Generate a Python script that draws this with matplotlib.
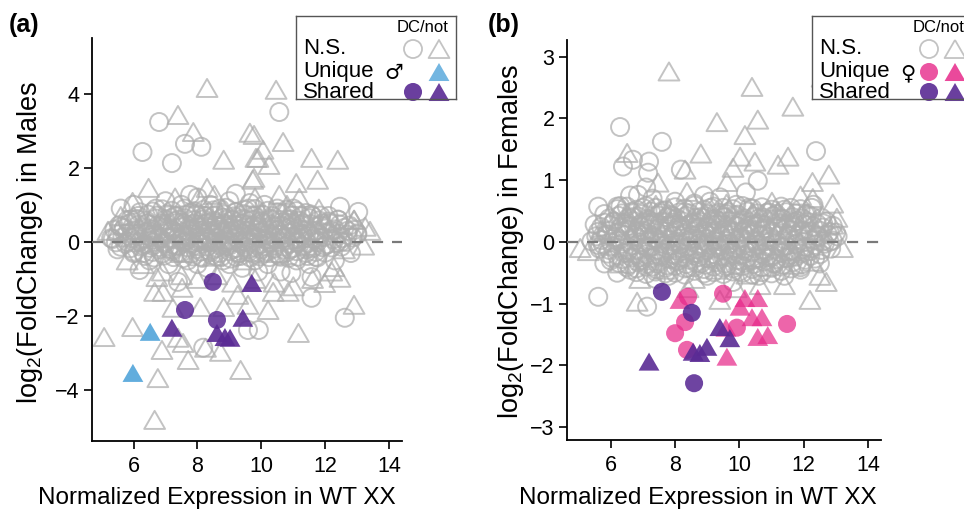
import matplotlib
matplotlib.use("Agg")
import matplotlib.pyplot as plt
from matplotlib.path import Path

plt.rcParams['font.family'] = ['Liberation Sans', 'DejaVu Sans']
plt.rcParams['mathtext.fontset'] = 'custom'
plt.rcParams['mathtext.rm'] = 'Liberation Sans'
plt.rcParams['mathtext.it'] = 'Liberation Sans:italic'

# ---------------- DATA ----------------
# Panel (a): males -- non-significant genes (open symbols)
a_ns_circ_x = [6.80, 7.61, 8.12, 6.28, 7.20, 9.64, 7.77, 10.56, 12.46, 13.03, 6.19, 7.39, 8.18, 9.58, 9.92, 10.94, 11.57, 11.57, 12.61,
               5.3, 5.5, 5.6, 5.8, 5.9, 6.0, 6.1, 6.2, 6.3, 6.4, 6.5, 6.6, 6.7, 6.8, 6.9, 7.0, 7.0, 7.1, 7.2, 7.3, 7.4, 7.5, 7.5, 7.6, 7.7,
               7.8, 7.8, 7.9, 8.0, 8.0, 8.1, 8.2, 8.2, 8.3, 8.4, 8.4, 8.5, 8.6, 8.6, 8.7, 8.8, 8.8, 8.9, 9.0, 9.0, 9.1, 9.2, 9.2, 9.3,
               9.4, 9.4, 9.5, 9.6, 9.6, 9.7, 9.8, 9.8, 9.9, 10.0, 10.0, 10.1, 10.2, 10.2, 10.3, 10.4, 10.5, 10.5, 10.6, 10.7, 10.8, 10.9,
               11.0, 11.0, 11.1, 11.2, 11.3, 11.4, 11.5, 11.6, 11.7, 11.8, 11.9, 12.0, 12.2, 12.3, 12.4, 12.5, 12.7, 12.8, 13.0,
               7.1, 7.3, 7.4, 7.6, 7.7, 7.9, 8.0, 8.1, 8.3, 8.3, 8.5, 8.5, 8.7, 8.7, 8.9, 8.9, 9.1, 9.1, 9.3, 9.3, 9.5, 9.5, 9.7, 9.7,
               9.9, 9.9, 10.1, 10.1, 10.3, 10.4, 10.6, 10.7, 10.9, 11.1, 11.3, 6.8, 6.6, 6.4, 6.2, 7.2, 8.0, 8.6, 9.0, 9.9, 10.6, 11.5,
               12.1, 5.6, 6.0, 9.2]
a_ns_circ_y = [3.24, 2.65, 2.57, 2.43, 2.13, 1.05, 1.27, 3.51, 0.95, 0.81, -0.76, -1.08, -2.86, -2.38, -2.38, -0.84, -0.95, -1.51, -2.05,
               0.1, -0.2, 0.4, 0.0, 0.6, -0.3, 0.3, 0.8, -0.1, 0.5, -0.5, 0.2, 0.9, -0.2, 0.5, 0.0, 1.1, -0.6, 0.3, 0.7, -0.3, 0.1, 1.0, 0.5, -0.5,
               0.2, 0.8, -0.1, 0.4, 1.2, -0.4, 0.1, 0.7, -0.7, 0.3, 1.0, -0.2, 0.5, 0.0, 0.9, -0.5, 0.2, 0.6, -0.1, 1.1, 0.3, -0.4, 0.8, 0.0,
               0.5, -0.7, 0.2, 0.9, -0.2, 0.4, -0.5, 0.7, 0.1, -0.2, 0.5, 1.0, 0.2, -0.6, 0.6, -0.1, 0.3, 0.9, -0.4, 0.1, 0.6, -0.2,
               0.3, 0.9, -0.5, 0.1, 0.5, -0.2, 0.2, 0.7, -0.4, 0.1, 0.5, -0.1, 0.3, -0.5, 0.6, 0.0, 0.3, -0.3, 0.2,
               0.4, -0.1, 0.6, 0.0, 0.3, 0.5, 0.0, 0.3, 0.5, 0.0, 0.2, 0.7, -0.1, 0.4, 0.0, 0.3, -0.2, 0.6, 0.3, -0.3, 0.0, 0.6, 0.1, -0.3,
               0.4, -0.1, 0.2, -0.3, 0.0, 0.4, 0.2, -0.2, 0.4, 0.0, 0.2, 0.1, -0.1, 0.2, 0.0, -0.2, -0.6, -0.4, -0.6, -0.8, -0.8, -0.6,
               0.7, 0.9, 1.0, 1.3]
# dense core of panel (a), typed row by row
a_core_x = [6.6, 6.9, 7.2, 7.6, 7.9, 8.2, 8.5, 8.9, 9.2, 9.5, 9.8, 10.2, 10.5, 10.8, 11.1, 11.4,
            5.8, 6.1, 6.4, 6.7, 7.0, 7.3, 7.6, 7.9, 8.2, 8.5, 8.8, 9.1, 9.4, 9.7, 10.0, 10.3, 10.6, 10.9, 11.2, 11.5, 11.8, 12.1, 12.4,
            5.4, 5.7, 6.0, 6.3, 6.6, 6.9, 7.2, 7.5, 7.8, 8.1, 8.4, 8.7, 9.0, 9.3, 9.6, 9.9, 10.2, 10.5, 10.8, 11.1, 11.4, 11.7, 12.0, 12.3, 12.6, 12.9,
            5.35, 5.65, 5.95, 6.25, 6.55, 6.85, 7.15, 7.45, 7.75, 8.05, 8.35, 8.65, 8.95, 9.25, 9.55, 9.85, 10.15, 10.45, 10.75, 11.05,
            11.35, 11.65, 11.95, 12.25, 12.55, 12.85,
            5.6, 5.9, 6.2, 6.5, 6.8, 7.1, 7.4, 7.7, 8.0, 8.3, 8.6, 8.9, 9.2, 9.5, 9.8, 10.1, 10.4, 10.7, 11.0, 11.3, 11.6, 11.9, 12.2, 12.5,
            6.35, 6.65, 6.95, 7.25, 7.55, 7.85, 8.15, 8.45, 8.75, 9.05, 9.35, 9.65, 9.95, 10.25, 10.55, 10.85, 11.15, 11.45, 11.75]
a_core_y = [0.82, 0.88, 0.84, 0.90, 0.83, 0.87, 0.85, 0.92, 0.81, 0.86, 0.89, 0.84, 0.80, 0.87, 0.83, 0.78,
            0.58, 0.62, 0.57, 0.63, 0.60, 0.56, 0.64, 0.59, 0.61, 0.57, 0.65, 0.58, 0.62, 0.60, 0.56, 0.63, 0.59, 0.61, 0.57, 0.64, 0.58, 0.55, 0.60,
            0.33, 0.37, 0.31, 0.38, 0.34, 0.36, 0.32, 0.39, 0.35, 0.30, 0.37, 0.33, 0.38, 0.34, 0.31, 0.36, 0.39, 0.32, 0.35, 0.37, 0.33, 0.30, 0.36, 0.34, 0.38, 0.32,
            0.08, 0.12, 0.10, 0.06, 0.13, 0.09, 0.11, 0.07, 0.14, 0.10, 0.08, 0.12, 0.06, 0.11, 0.09, 0.13, 0.07, 0.10, 0.12, 0.08,
            0.11, 0.09, 0.13, 0.07, 0.10, 0.12,
            -0.13, -0.17, -0.12, -0.16, -0.14, -0.18, -0.11, -0.15, -0.19, -0.13, -0.16, -0.12, -0.17, -0.14, -0.15, -0.11, -0.18, -0.13, -0.16, -0.12, -0.17, -0.14, -0.15, -0.13,
            -0.38, -0.42, -0.37, -0.41, -0.44, -0.39, -0.43, -0.36, -0.40, -0.45, -0.38, -0.42, -0.39, -0.41, -0.37, -0.43, -0.40, -0.38, -0.42]
a_core2_x = [6.15, 6.45, 6.75, 7.05, 7.35, 7.65, 7.95, 8.25, 8.55, 8.85, 9.15, 9.45, 9.75, 10.05, 10.35, 10.65, 10.95, 11.25, 11.55, 11.85,
             5.55, 5.85, 6.15, 6.45, 6.75, 7.05, 7.35, 7.65, 7.95, 8.25, 8.55, 8.85, 9.15, 9.45, 9.75, 10.05, 10.35, 10.65, 10.95, 11.25,
             11.55, 11.85, 12.15, 12.45, 12.75,
             5.5, 5.8, 6.1, 6.4, 6.7, 7.0, 7.3, 7.6, 7.9, 8.2, 8.5, 8.8, 9.1, 9.4, 9.7, 10.0, 10.3, 10.6, 10.9, 11.2, 11.5, 11.8, 12.1,
             12.4, 12.7, 13.0,
             5.45, 5.75, 6.05, 6.35, 6.65, 6.95, 7.25, 7.55, 7.85, 8.15, 8.45, 8.75, 9.05, 9.35, 9.65, 9.95, 10.25, 10.55, 10.85, 11.15,
             11.45, 11.75, 12.05, 12.35, 12.65,
             6.0, 6.3, 6.6, 6.9, 7.2, 7.5, 7.8, 8.1, 8.4, 8.7, 9.0, 9.3, 9.6, 9.9, 10.2, 10.5, 10.8, 11.1, 11.4, 11.7, 12.0]
a_core2_y = [0.70, 0.74, 0.71, 0.75, 0.69, 0.73, 0.76, 0.70, 0.72, 0.74, 0.69, 0.75, 0.71, 0.73, 0.70, 0.76, 0.72, 0.69, 0.74, 0.71,
             0.45, 0.49, 0.46, 0.50, 0.44, 0.48, 0.51, 0.45, 0.47, 0.49, 0.44, 0.50, 0.46, 0.48, 0.45, 0.51, 0.47, 0.44, 0.49, 0.46,
             0.48, 0.45, 0.50, 0.47, 0.44,
             0.20, 0.24, 0.21, 0.25, 0.19, 0.23, 0.26, 0.20, 0.22, 0.24, 0.19, 0.25, 0.21, 0.23, 0.20, 0.26, 0.22, 0.19, 0.24, 0.21, 0.23, 0.20, 0.25,
             0.22, 0.19, 0.23,
             -0.01, -0.05, -0.02, -0.06, 0.00, -0.04, -0.07, -0.01, -0.03, -0.05, 0.00, -0.06, -0.02, -0.04, -0.01, -0.07, -0.03, 0.00, -0.05, -0.02,
             -0.04, -0.01, -0.06, -0.03, 0.00,
             -0.26, -0.30, -0.27, -0.31, -0.25, -0.29, -0.32, -0.26, -0.28, -0.30, -0.25, -0.31, -0.27, -0.29, -0.26, -0.32, -0.28, -0.25, -0.30, -0.27, -0.29]
a_ns_tri_x = [8.30, 7.39, 7.87, 8.82, 9.64, 9.83, 9.73, 6.47, 5.97, 8.30, 8.53, 8.03, 10.46, 10.68, 10.05, 9.77, 9.89, 10.24, 11.57, 12.39,
              11.76, 11.09, 9.77, 10.56, 11.19, 13.25, 5.2, 5.6, 13.4, 12.9,
              6.73, 6.66, 6.92, 7.52, 5.08, 5.97, 7.23, 7.39, 7.55, 6.89, 7.71, 6.76, 6.66, 8.25, 8.72, 9.35, 10.21, 9.58, 9.26, 8.09,
              8.82, 10.37, 10.84, 11.98, 12.46, 12.27, 12.90, 11.16,
              6.3, 6.9, 7.5, 8.0, 8.6, 9.1, 9.8, 10.4, 11.0, 11.6, 12.2, 5.8,
              6.5, 7.0, 7.5, 8.0, 8.5, 9.0, 9.5, 10.0, 10.5, 11.0, 11.5, 12.0, 12.6, 5.5, 13.2, 8.8, 9.8, 10.8, 7.3, 6.0, 11.8, 12.9]
a_ns_tri_y = [4.16, 3.43, 2.97, 2.22, 2.95, 2.27, 1.68, 1.46, 1.08, 1.46, 1.27, 1.19, 4.11, 2.70, 2.49, 2.89, 2.27, 2.08, 2.27, 2.22,
              1.68, 1.59, 1.73, 1.27, 1.19, 0.41, 0.3, 0.7, 0.3, 0.6,
              -0.95, -1.35, -1.35, -1.24, -2.57, -2.30, -1.78, -2.59, -2.73, -2.92, -3.19, -3.68, -4.81, -2.86, -2.97, -3.46, -1.84, -1.70, -1.43, -1.76,
              -1.76, -1.35, -1.35, -1.11, -0.97, -0.68, -1.70, -2.46,
              -0.6, -0.8, -0.9, -1.0, -0.9, -1.1, -1.0, -1.1, -1.2, -1.0, -0.8, -0.5,
              0.3, 0.6, -0.3, 0.6, -0.4, 0.4, -0.5, 0.8, -0.3, 0.6, -0.1, 0.5, -0.2, 0.3, -0.1, 0.9, 1.2, 1.0, 1.2, 0.7, 0.9, 0.6]
a_shared_circ_x = [8.48, 7.61, 8.61]
a_shared_circ_y = [-1.08, -1.84, -2.11]
a_shared_tri_x = [9.70, 9.42, 7.20, 8.61, 8.86, 9.02]
a_shared_tri_y = [-1.11, -2.05, -2.32, -2.46, -2.57, -2.59]
a_unique_tri_x = [6.52, 5.98]
a_unique_tri_y = [-2.43, -3.54]

# Panel (b): females
b_ns_circ_x = [6.29, 7.59, 6.38, 6.69, 7.19, 7.16, 8.18, 5.61, 6.20, 6.85, 9.08, 12.38, 10.57, 12.25, 5.61, 7.13,
               5.5, 5.6, 5.8, 5.9, 6.0, 6.1, 6.2, 6.3, 6.4, 6.5, 6.6, 6.7, 6.8, 6.9, 7.0, 7.0, 7.1, 7.2, 7.3, 7.3, 7.4, 7.5, 7.5, 7.6,
               7.7, 7.8, 7.8, 7.9, 8.0, 8.0, 8.1, 8.2, 8.2, 8.3, 8.4, 8.4, 8.5, 8.6, 8.6, 8.7, 8.8, 8.8, 8.9, 9.0, 9.0, 9.1, 9.2, 9.2,
               9.3, 9.4, 9.4, 9.5, 9.6, 9.6, 9.7, 9.8, 9.8, 9.9, 10.0, 10.0, 10.1, 10.2, 10.3, 10.3, 10.4, 10.5, 10.6, 10.6, 10.7, 10.8,
               10.9, 11.0, 11.1, 11.2, 11.3, 11.4, 11.5, 11.6, 11.7, 11.8, 11.9, 12.0, 12.1, 12.2, 12.4, 12.5, 12.6, 12.8, 13.0,
               6.2, 6.9, 7.2, 7.6, 7.9, 8.3, 8.5, 8.7, 9.1, 9.3, 9.5, 9.7, 9.9, 10.1, 10.4, 10.8, 11.0, 11.3, 7.4, 8.9, 10.2, 9.8, 11.4,
               12.3, 5.8, 6.6, 7.1]
b_ns_circ_y = [1.86, 1.62, 1.22, 1.33, 1.30, 1.12, 1.17, 0.57, 0.57, 0.76, 0.65, 1.47, 0.99, 0.55, -0.89, -1.05,
               0.28, -0.05, 0.45, 0.12, -0.30, 0.33, 0.02, 0.58, -0.18, 0.25, -0.45, 0.40, 0.08, -0.25, 0.55, 0.18, -0.08, 0.35, -0.40, 0.70,
               0.05, 0.28, -0.22, 0.50, -0.05, 0.20, -0.55, 0.42, 0.00, 0.65, -0.30, 0.25, -0.10, 0.48, 0.08, -0.42, 0.30, -0.18, 0.62, 0.12,
               -0.35, 0.40, -0.05, 0.22, -0.55, 0.55, 0.02, -0.25, 0.35, -0.12, 0.72, 0.15, -0.40, 0.45, -0.02, 0.28, -0.22, 0.60, 0.05,
               -0.48, 0.35, -0.15, 0.18, 0.55, -0.30, 0.00, 0.38, -0.55, 0.12, -0.18, 0.48, 0.02, -0.35, 0.25, -0.08, 0.52, 0.10, -0.25,
               0.32, -0.02, -0.45, 0.18, 0.45, -0.15, 0.10, -0.35, 0.30, 0.00, 0.15,
               -0.50, 0.28, 0.12, 0.08, -0.20, -0.25, 0.05, 0.30, 0.10, -0.05, 0.40, 0.20, -0.10, 0.15, 0.28, 0.22, -0.25, 0.38, -0.60,
               0.75, 0.80, -0.65, -0.55, 0.60, -0.35, 0.75, 0.88]
# dense core of panel (b), typed row by row
b_core_x = [6.2, 6.5, 6.8, 7.1, 7.4, 7.7, 8.0, 8.3, 8.6, 8.9, 9.2, 9.5, 9.8, 10.1, 10.4, 10.7, 11.0, 11.3, 11.6, 11.9,
            5.95, 6.25, 6.55, 6.85, 7.15, 7.45, 7.75, 8.05, 8.35, 8.65, 8.95, 9.25, 9.55, 9.85, 10.15, 10.45, 10.75, 11.05, 11.35,
            11.65, 11.95, 12.25, 12.55,
            5.7, 6.0, 6.3, 6.6, 6.9, 7.2, 7.5, 7.8, 8.1, 8.4, 8.7, 9.0, 9.3, 9.6, 9.9, 10.2, 10.5, 10.8, 11.1, 11.4, 11.7, 12.0, 12.3, 12.6, 12.9,
            5.55, 5.85, 6.15, 6.45, 6.75, 7.05, 7.35, 7.65, 7.95, 8.25, 8.55, 8.85, 9.15, 9.45, 9.75, 10.05, 10.35, 10.65, 10.95, 11.25,
            11.55, 11.85, 12.15, 12.45, 12.75, 13.05,
            5.75, 6.05, 6.35, 6.65, 6.95, 7.25, 7.55, 7.85, 8.15, 8.45, 8.75, 9.05, 9.35, 9.65, 9.95, 10.25, 10.55, 10.85, 11.15, 11.45,
            11.75, 12.05, 12.35, 12.65,
            5.9, 6.2, 6.5, 6.8, 7.1, 7.4, 7.7, 8.0, 8.3, 8.6, 8.9, 9.2, 9.5, 9.8, 10.1, 10.4, 10.7, 11.0, 11.3, 11.6, 11.9, 12.2, 12.5,
            6.25, 6.55, 6.85, 7.15, 7.45, 7.75, 8.05, 8.35, 8.65, 8.95, 9.25, 9.55, 9.85, 10.15, 10.45, 10.75, 11.05, 11.35, 11.65, 11.95,
            6.8, 7.1, 7.4, 7.7, 8.0, 8.3, 8.6, 8.9, 9.2, 9.5, 9.8, 10.1, 10.4, 10.7, 11.0, 11.3]
b_core_y = [0.53, 0.57, 0.52, 0.58, 0.55, 0.51, 0.56, 0.54, 0.59, 0.52, 0.57, 0.55, 0.53, 0.58, 0.54, 0.56, 0.52, 0.57, 0.55, 0.53,
            0.38, 0.42, 0.39, 0.41, 0.37, 0.43, 0.40, 0.38, 0.42, 0.39, 0.41, 0.37, 0.40, 0.43, 0.38, 0.41, 0.39, 0.42, 0.37,
            0.40, 0.38, 0.41, 0.39,
            0.24, 0.27, 0.23, 0.26, 0.25, 0.28, 0.22, 0.26, 0.24, 0.27, 0.23, 0.25, 0.28, 0.24, 0.26, 0.22, 0.25, 0.27, 0.23, 0.26, 0.24, 0.28, 0.25, 0.23, 0.26,
            0.09, 0.12, 0.08, 0.11, 0.10, 0.13, 0.07, 0.11, 0.09, 0.12, 0.10, 0.08, 0.13, 0.09, 0.11, 0.07, 0.12, 0.10, 0.08, 0.11,
            0.09, 0.13, 0.10, 0.08, 0.12, 0.09,
            -0.04, -0.07, -0.03, -0.06, -0.05, -0.08, -0.02, -0.06, -0.04, -0.07, -0.03, -0.05, -0.08, -0.04, -0.06, -0.02, -0.05, -0.07, -0.03, -0.06,
            -0.04, -0.08, -0.05, -0.03,
            -0.19, -0.22, -0.18, -0.21, -0.20, -0.23, -0.17, -0.21, -0.19, -0.22, -0.18, -0.20, -0.23, -0.19, -0.21, -0.17, -0.20, -0.22, -0.18, -0.21, -0.19, -0.23, -0.20,
            -0.34, -0.37, -0.33, -0.36, -0.35, -0.38, -0.32, -0.36, -0.34, -0.37, -0.33, -0.35, -0.38, -0.34, -0.36, -0.32, -0.35, -0.37, -0.33, -0.36,
            -0.49, -0.52, -0.48, -0.51, -0.50, -0.53, -0.47, -0.51, -0.49, -0.52, -0.48, -0.50, -0.53, -0.49, -0.51, -0.47]
b_core2_x = [6.35, 6.65, 6.95, 7.25, 7.55, 7.85, 8.15, 8.45, 8.75, 9.05, 9.35, 9.65, 9.95, 10.25, 10.55, 10.85, 11.15, 11.45, 11.75, 12.05,
             5.8, 6.1, 6.4, 6.7, 7.0, 7.3, 7.6, 7.9, 8.2, 8.5, 8.8, 9.1, 9.4, 9.7, 10.0, 10.3, 10.6, 10.9, 11.2, 11.5, 11.8, 12.1, 12.4, 12.7,
             5.6, 5.9, 6.2, 6.5, 6.8, 7.1, 7.4, 7.7, 8.0, 8.3, 8.6, 8.9, 9.2, 9.5, 9.8, 10.1, 10.4, 10.7, 11.0, 11.3, 11.6, 11.9, 12.2, 12.5, 12.8,
             5.4, 5.7, 6.0, 6.3, 6.6, 6.9, 7.2, 7.5, 7.8, 8.1, 8.4, 8.7, 9.0, 9.3, 9.6, 9.9, 10.2, 10.5, 10.8, 11.1, 11.4, 11.7, 12.0,
             12.3, 12.6, 12.9,
             5.65, 5.95, 6.25, 6.55, 6.85, 7.15, 7.45, 7.75, 8.05, 8.35, 8.65, 8.95, 9.25, 9.55, 9.85, 10.15, 10.45, 10.75, 11.05, 11.35,
             11.65, 11.95, 12.25, 12.55, 12.85,
             6.05, 6.35, 6.65, 6.95, 7.25, 7.55, 7.85, 8.15, 8.45, 8.75, 9.05, 9.35, 9.65, 9.95, 10.25, 10.55, 10.85, 11.15, 11.45, 11.75,
             12.05, 12.35,
             6.5, 6.8, 7.1, 7.4, 7.7, 8.0, 8.3, 8.6, 8.9, 9.2, 9.5, 9.8, 10.1, 10.4, 10.7, 11.0, 11.3, 11.6, 11.9]
b_core2_y = [0.46, 0.48, 0.45, 0.49, 0.47, 0.44, 0.48, 0.46, 0.49, 0.45, 0.47, 0.48, 0.44, 0.49, 0.46, 0.47, 0.45, 0.48, 0.46, 0.44,
             0.31, 0.33, 0.30, 0.34, 0.32, 0.29, 0.33, 0.31, 0.34, 0.30, 0.32, 0.33, 0.29, 0.34, 0.31, 0.32, 0.30, 0.33, 0.31, 0.29, 0.34, 0.32, 0.30, 0.33,
             0.16, 0.18, 0.15, 0.19, 0.17, 0.14, 0.18, 0.16, 0.19, 0.15, 0.17, 0.18, 0.14, 0.19, 0.16, 0.17, 0.15, 0.18, 0.16, 0.14, 0.19, 0.17, 0.15, 0.18, 0.16,
             0.01, 0.03, 0.00, 0.04, 0.02, -0.01, 0.03, 0.01, 0.04, 0.00, 0.02, 0.03, -0.01, 0.04, 0.01, 0.02, 0.00, 0.03, 0.01, -0.01, 0.04, 0.02, 0.00,
             0.03, 0.01, 0.02,
             -0.11, -0.13, -0.10, -0.14, -0.12, -0.09, -0.13, -0.11, -0.14, -0.10, -0.12, -0.13, -0.09, -0.14, -0.11, -0.12, -0.10, -0.13, -0.11, -0.09,
             -0.14, -0.12, -0.10, -0.13, -0.11,
             -0.26, -0.28, -0.25, -0.29, -0.27, -0.24, -0.28, -0.26, -0.29, -0.25, -0.27, -0.28, -0.24, -0.29, -0.26, -0.27, -0.25, -0.28, -0.26, -0.24,
             -0.29, -0.27,
             -0.41, -0.43, -0.40, -0.44, -0.42, -0.39, -0.43, -0.41, -0.44, -0.40, -0.42, -0.43, -0.39, -0.44, -0.41, -0.42, -0.40, -0.43, -0.41]
b_ns_tri_x = [7.81, 9.30, 8.80, 6.51, 7.47, 8.31, 8.37, 9.61, 9.80, 10.39, 11.66, 10.57, 10.17, 11.51, 11.20, 10.48, 10.02, 12.78,
              11.01, 12.28, 13.03, 11.66, 12.57, 12.27,
              6.82, 5.05, 12.19, 10.64, 10.23, 11.66, 12.28, 9.39,
              5.3, 5.7, 6.3, 6.5, 7.0, 7.4, 7.7, 8.1, 8.6, 8.9, 9.3, 9.6, 10.0, 10.4, 10.8, 11.2, 11.6, 12.0, 12.5, 12.9, 13.2,
              6.9, 8.4, 9.9, 11.4, 12.7, 11.9, 12.9, 7.8, 9.1]
b_ns_tri_y = [2.76, 1.94, 1.43, 1.44, 0.96, 1.17, 0.81, 0.97, 1.20, 2.51, 2.19, 1.98, 1.73, 1.38, 1.25, 1.30, 1.38, 1.09,
              0.65, 0.71, 0.39, 0.39, 2.66, 0.97,
              -0.97, -0.10, -0.94, -0.70, -0.53, -0.37, -0.32, -0.94,
              -0.15, 0.20, -0.35, 0.45, -0.30, 0.60, -0.45, 0.38, -0.60, 0.15, -0.45, 0.62, -0.30, 0.48, -0.40, 0.50, -0.15, 0.40, -0.55,
              0.28, -0.10, -0.60, -0.75, -0.75, -0.70, -0.65, 0.75, 0.62, 0.55, 0.45]
b_unique_circ_x = [8.40, 8.31, 8.00, 8.37, 9.49, 9.92, 11.48]
b_unique_circ_y = [-0.89, -1.30, -1.48, -1.75, -0.84, -1.39, -1.33]
b_unique_tri_x = [8.15, 10.17, 10.57, 10.02, 10.39, 10.70, 10.57, 10.88, 9.61, 9.58]
b_unique_tri_y = [-0.94, -0.91, -0.91, -1.05, -1.22, -1.22, -1.54, -1.51, -1.86, -1.39]
b_shared_circ_x = [7.59, 8.52, 8.59]
b_shared_circ_y = [-0.81, -1.15, -2.29]
b_shared_tri_x = [9.39, 9.70, 8.99, 8.56, 8.77, 7.19]
b_shared_tri_y = [-1.38, -1.56, -1.70, -1.78, -1.80, -1.94]

x_ticks = [6, 8, 10, 12, 14]
a_y_ticks = [-4, -2, 0, 2, 4]
b_y_ticks = [-3, -2, -1, 0, 1, 2, 3]

# ---------------- STYLE ----------------
GRAY = (0.68, 0.68, 0.68)
PURPLE = '#5a2a94'
BLUE = '#5aa9dc'
PINK = '#e7298a'
TRI = Path([(0, 0.433), (-0.5, -0.433), (0.5, -0.433), (0, 0.433)],
           [Path.MOVETO, Path.LINETO, Path.LINETO, Path.CLOSEPOLY])
S_C = 13 ** 2
S_T = 15 ** 2

W, H = 964, 516
fig = plt.figure(figsize=(W / 100, H / 100), dpi=100)


def fx(px):
    return px / W


def fy(py):
    return 1 - py / H


def make_axes(l, r, t, b):
    return fig.add_axes([fx(l), fy(b), fx(r) - fx(l), fy(t) - fy(b)])


def style_axes(ax, xlim, ylim, yticks):
    ax.set_xlim(*xlim)
    ax.set_ylim(*ylim)
    ax.set_xticks(x_ticks)
    ax.set_yticks(yticks)
    ax.set_yticklabels([str(v).replace('-', '\u2212') for v in yticks])
    for s in ['top', 'right']:
        ax.spines[s].set_visible(False)
    for s in ['left', 'bottom']:
        ax.spines[s].set_linewidth(1.3)
    ax.tick_params(direction='out', length=6, width=1.2, labelsize=15.5, pad=3)
    ax.tick_params(axis='x', pad=5)


def ns(ax, cx, cy, tx, ty):
    ax.scatter(cx, cy, s=S_C, marker='o', facecolors='none', edgecolors=GRAY,
               linewidths=1.4, alpha=0.72, zorder=2)
    ax.scatter(tx, ty, s=S_T, marker=TRI, facecolors='none', edgecolors=GRAY,
               linewidths=1.4, alpha=0.72, zorder=2)
    ax.axhline(0, color='#7a7a7a', lw=1.6, ls=(0, (5, 4)), zorder=3)


def filled(ax, x, y, marker, color, alpha):
    ax.scatter(x, y, s=S_C if marker == 'o' else S_T, marker=marker, color=color,
               edgecolors='none', alpha=alpha, zorder=4)


# Panel (a)
axa = make_axes(92, 402, 38, 441)
ns(axa, a_ns_circ_x + a_core_x + a_core2_x, a_ns_circ_y + a_core_y + a_core2_y, a_ns_tri_x, a_ns_tri_y)
filled(axa, a_unique_tri_x, a_unique_tri_y, TRI, BLUE, 0.95)
filled(axa, a_shared_circ_x, a_shared_circ_y, 'o', PURPLE, 0.85)
filled(axa, a_shared_tri_x, a_shared_tri_y, TRI, PURPLE, 0.9)
style_axes(axa, (4.70, 14.4), (-5.38, 5.51), a_y_ticks)

# Panel (b)
axb = make_axes(567, 881, 40, 440)
ns(axb, b_ns_circ_x + b_core_x + b_core2_x, b_ns_circ_y + b_core_y + b_core2_y, b_ns_tri_x, b_ns_tri_y)
filled(axb, b_unique_circ_x, b_unique_circ_y, 'o', PINK, 0.72)
filled(axb, b_unique_tri_x, b_unique_tri_y, TRI, PINK, 0.72)
filled(axb, b_shared_circ_x, b_shared_circ_y, 'o', PURPLE, 0.88)
filled(axb, b_shared_tri_x, b_shared_tri_y, TRI, PURPLE, 0.9)
style_axes(axb, (4.64, 14.4), (-3.21, 3.27), b_y_ticks)

# Labels
fig.text(fx(217), fy(498), 'Normalized Expression in WT XX', ha='center', va='center', fontsize=17.5)
fig.text(fx(698), fy(498), 'Normalized Expression in WT XX', ha='center', va='center', fontsize=17.5)
fig.text(fx(30), fy(242), 'log$_2$(FoldChange) in Males', ha='center', va='center', rotation=90, fontsize=19.5)
fig.text(fx(511), fy(242), 'log$_2$(FoldChange) in Females', ha='center', va='center', rotation=90, fontsize=19.5)
fig.text(fx(9), fy(25), '(a)', ha='left', va='center', fontsize=18, fontweight='bold')
fig.text(fx(488), fy(25), '(b)', ha='left', va='center', fontsize=18, fontweight='bold')


# Legends
def legend(left, sym, uniq_circ, uniq_color):
    top, bot, wid = 16, 99, 160
    lg = fig.add_axes([fx(left), fy(bot), wid / W, (bot - top) / H])
    lg.set_xlim(0, wid)
    lg.set_ylim(bot - top, 0)
    lg.set_xticks([])
    lg.set_yticks([])
    for s in lg.spines.values():
        s.set_color('#555555')
        s.set_linewidth(1.0)
    lg.text(152, 12, 'DC/not', ha='right', va='center', fontsize=12)
    rows = [33, 56, 76]
    for y, t in zip(rows, ['N.S.', 'Unique', 'Shared']):
        lg.text(7, y, t, ha='left', va='center', fontsize=16)
    lg.text(88, 57, sym, ha='left', va='center', fontsize=15, family=['DejaVu Sans'])
    cx, tx = 117, 143
    lg.scatter([cx], [rows[0]], s=S_C, marker='o', facecolors='none', edgecolors=GRAY, linewidths=1.3, alpha=0.72, clip_on=False)
    lg.scatter([tx], [rows[0]], s=S_T, marker=TRI, facecolors='none', edgecolors=GRAY, linewidths=1.3, alpha=0.72, clip_on=False)
    if uniq_circ:
        lg.scatter([cx], [rows[1]], s=S_C, marker='o', color=uniq_color, edgecolors='none', alpha=0.8, clip_on=False)
    lg.scatter([tx], [rows[1]], s=S_T, marker=TRI, color=uniq_color, edgecolors='none', alpha=0.85, clip_on=False)
    lg.scatter([cx], [rows[2]], s=S_C, marker='o', color=PURPLE, edgecolors='none', alpha=0.9, clip_on=False)
    lg.scatter([tx], [rows[2]], s=S_T, marker=TRI, color=PURPLE, edgecolors='none', alpha=0.9, clip_on=False)


legend(296, '\u2642', False, BLUE)
legend(812, '\u2640', True, PINK)

fig.savefig('out.png', dpi=100)
